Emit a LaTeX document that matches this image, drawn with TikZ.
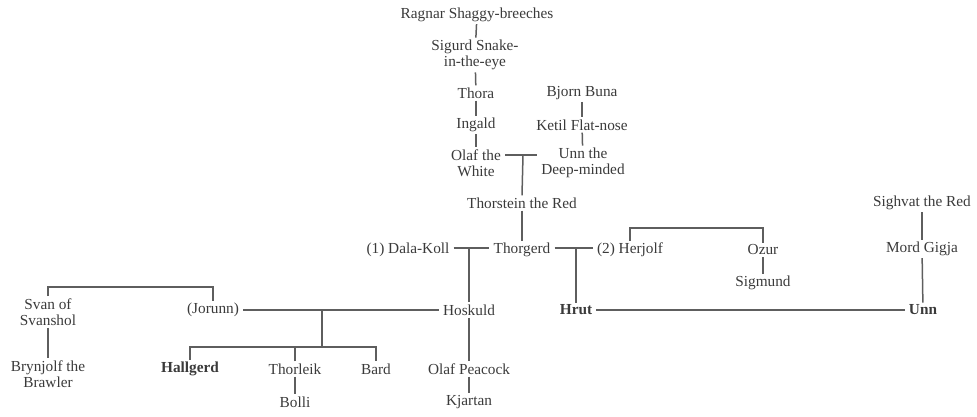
\documentclass[tikz,border=0pt]{standalone}
\usepackage{fontspec}
\setmainfont{Liberation Serif}
\definecolor{txt}{HTML}{3A3A3A}
\definecolor{ln}{HTML}{5E5E5E}
\begin{document}
\begin{tikzpicture}[x=1pt,y=-1pt,
  person/.style={text=txt,align=center,inner xsep=4pt,inner ysep=2pt,
    font=\fontsize{15.3}{16.5}\selectfont},
  key/.style={person,font=\fontsize{15.3}{16.5}\selectfont\bfseries},
  link/.style={draw=ln,line width=1.5pt}]
\useasboundingbox (0,0) rectangle (977,416);
% nodes
\node[person] (ragnar) at (477,15) {Ragnar Shaggy-breeches};
\node[person] (sigurd) at (475,55) {Sigurd Snake-\\in-the-eye};
\node[person] (thora) at (476,93) {Thora};
\node[person] (ingald) at (476,125) {Ingald};
\node[person] (olaf) at (476,163) {Olaf the\\White};
\node[person] (bjorn) at (582,93) {Bjorn Buna};
\node[person] (ketil) at (582,125) {Ketil Flat-nose};
\node[person] (unnd) at (583,163) {Unn the\\Deep-minded};
\node[person] (thorstein) at (522,203) {Thorstein the Red};
\node[person] (thorgerd) at (522,250) {Thorgerd};
\node[person] (dalakoll) at (408,250) {(1) Dala-Koll};
\node[person] (herjolf) at (630,250) {(2) Herjolf};
\node[person] (ozur) at (763,250) {Ozur};
\node[person] (sigmund) at (763,283) {Sigmund};
\node[person] (sighvat) at (922,203) {Sighvat the Red};
\node[person] (mord) at (922,249) {Mord Gigja};
\node[key] (unn) at (923,310) {Unn};
\node[key] (hrut) at (576,310) {Hrut};
\node[person] (hoskuld) at (469,310) {Hoskuld};
\node[person] (jorunn) at (213,310) {(Jorunn)};
\node[person] (svan) at (48,312) {Svan of\\Svanshol};
\node[person] (brynjolf) at (48,374) {Brynjolf the\\Brawler};
\node[key] (hallgerd) at (190,369) {Hallgerd};
\node[person] (thorleik) at (295,369) {Thorleik};
\node[person] (bolli) at (295,402) {Bolli};
\node[person] (bard) at (376,369) {Bard};
\node[person] (olafp) at (469,369) {Olaf Peacock};
\node[person] (kjartan) at (469,402) {Kjartan};
% junction coordinates
\coordinate (m1) at (523,155);
\coordinate (m2) at (469,248);
\coordinate (m3) at (576,248);
\coordinate (m4) at (322,310);
\coordinate (bar) at (322,347);
\coordinate (b1) at (700,228);
\coordinate (b2) at (130,287);
% descent lines
\draw[link] (ragnar) -- (sigurd);
\draw[link] (sigurd) -- (thora);
\draw[link] (thora) -- (ingald);
\draw[link] (ingald) -- (olaf);
\draw[link] (bjorn) -- (ketil);
\draw[link] (ketil) -- (unnd);
\draw[link] (olaf.east |- m1) -- (unnd.west |- m1);
\draw[link] (m1) -- (thorstein.north);
\draw[link] (thorstein) -- (thorgerd);
\draw[link] (dalakoll.east |- m2) -- (thorgerd.west |- m2);
\draw[link] (m2) -- (hoskuld.north);
\draw[link] (thorgerd.east |- m3) -- (herjolf.west |- m3);
\draw[link] (m3) -- (hrut.north);
\draw[link] (herjolf.north) -- (herjolf.north |- b1) -- (ozur.north |- b1) -- (ozur.north);
\draw[link] (ozur) -- (sigmund);
\draw[link] (sighvat) -- (mord);
\draw[link] (mord) -- (unn);
\draw[link] (hrut) -- (unn);
\draw[link] (jorunn) -- (hoskuld);
\draw[link] (m4) -- (bar);
\draw[link] (hallgerd.north) -- (hallgerd.north |- bar) -- (bard.north |- bar) -- (bard.north);
\draw[link] (thorleik.north) -- (thorleik.north |- bar);
\draw[link] (thorleik) -- (bolli);
\draw[link] (svan.north) -- (svan.north |- b2) -- (jorunn.north |- b2) -- (jorunn.north);
\draw[link] (svan) -- (brynjolf);
\draw[link] (hoskuld) -- (olafp);
\draw[link] (olafp) -- (kjartan);
\end{tikzpicture}
\end{document}
